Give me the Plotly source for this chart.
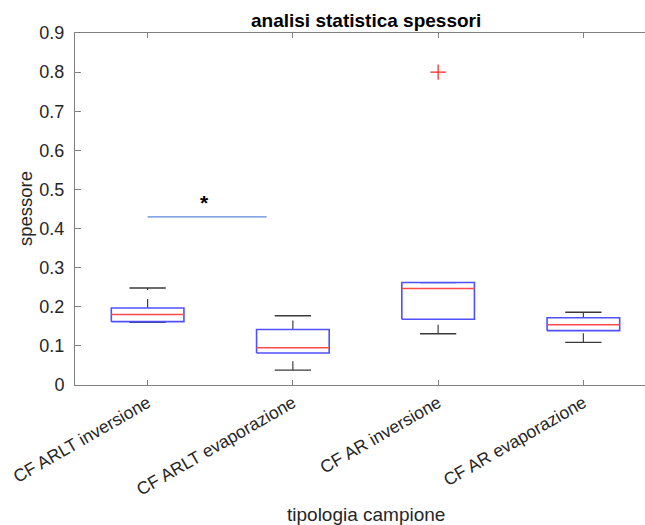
import plotly.graph_objects as go

categories = ["CF ARLT inversione", "CF ARLT evaporazione", "CF AR inversione", "CF AR evaporazione"]
q1 = [0.162, 0.082, 0.168, 0.139]
median = [0.180, 0.095, 0.247, 0.154]
q3 = [0.197, 0.142, 0.262, 0.172]
whisker_low = [0.160, 0.038, 0.131, 0.109]
whisker_high = [0.248, 0.177, 0.262, 0.186]
outlier_pos = [3]
outlier_val = [0.80]
sig_x = [1, 1.82]
sig_y = [0.43, 0.43]
star_x = 1.39
star_y = 0.467
y_ticks = [0, 0.1, 0.2, 0.3, 0.4, 0.5, 0.6, 0.7, 0.8, 0.9]

FONT = "Liberation Sans, Arial, Helvetica, sans-serif"
TXT = "#262626"
AX = "#808080"
BOXW = 0.25
CAPW = 0.125

fig = go.Figure()

for i in range(len(categories)):
    p = i + 1
    # whiskers (dashed)
    fig.add_trace(go.Scatter(x=[p, p], y=[q3[i], whisker_high[i]], mode="lines",
                             line=dict(color="#404040", width=1.2, dash="dash"), hoverinfo="skip"))
    fig.add_trace(go.Scatter(x=[p, p], y=[whisker_low[i], q1[i]], mode="lines",
                             line=dict(color="#404040", width=1.2, dash="dash"), hoverinfo="skip"))
    # caps
    for v in (whisker_high[i], whisker_low[i]):
        fig.add_trace(go.Scatter(x=[p - CAPW, p + CAPW], y=[v, v], mode="lines",
                                 line=dict(color="#3a3a3a", width=1.3), hoverinfo="skip"))
    # box
    fig.add_trace(go.Scatter(x=[p - BOXW, p + BOXW, p + BOXW, p - BOXW, p - BOXW],
                             y=[q1[i], q1[i], q3[i], q3[i], q1[i]], mode="lines",
                             line=dict(color="#5050ff", width=1.6), hoverinfo="skip"))
    # median
    fig.add_trace(go.Scatter(x=[p - BOXW, p + BOXW], y=[median[i], median[i]], mode="lines",
                             line=dict(color="#ff4a4a", width=1.5), hoverinfo="skip"))

fig.add_trace(go.Scatter(x=outlier_pos, y=outlier_val, mode="markers",
                         marker=dict(symbol="cross-thin", size=11, line=dict(color="#ff2020", width=1.2)),
                         hoverinfo="skip"))

fig.add_trace(go.Scatter(x=sig_x, y=sig_y, mode="lines",
                         line=dict(color="#5b88dd", width=1.3), hoverinfo="skip"))

fig.add_annotation(x=star_x, y=star_y, xref="x", yref="y", text="<b>*</b>", showarrow=False,
                   font=dict(family=FONT, size=21, color="black"), yshift=0)

# title and axis labels
fig.add_annotation(x=2.5, y=1, xref="x", yref="paper", text="<b>analisi statistica spessori</b>",
                   showarrow=False, yanchor="middle", yshift=13,
                   font=dict(family=FONT, size=19, color="black"))
fig.add_annotation(x=2.5, y=0, xref="x", yref="paper", text="tipologia campione",
                   showarrow=False, yanchor="middle", yshift=-129,
                   font=dict(family=FONT, size=19, color=TXT))
fig.add_annotation(x=0, y=0.5, xref="paper", yref="paper", text="spessore", textangle=-90,
                   showarrow=False, xanchor="center", xshift=-50,
                   font=dict(family=FONT, size=18.5, color=TXT))

fig.update_layout(
    width=645, height=525,
    margin=dict(l=75, r=0, t=33, b=140),
    plot_bgcolor="white", paper_bgcolor="white",
    showlegend=False,
    font=dict(family=FONT, size=18, color=TXT),
)
fig.update_xaxes(range=[0.5, 4.5 - 11 / 145.3], tickvals=[1, 2, 3, 4], ticktext=categories,
                 tickangle=-30, ticks="inside", ticklen=5, tickcolor=AX,
                 showline=True, linecolor=AX, linewidth=1, mirror="ticks",
                 showgrid=False, zeroline=False,
                 tickfont=dict(family=FONT, size=17.5, color=TXT))
fig.update_yaxes(range=[0, 0.9], tickvals=y_ticks, ticks="inside", ticklen=6, tickcolor=AX,
                 showline=True, linecolor=AX, linewidth=1,
                 showgrid=False, zeroline=False, ticklabelstandoff=6,
                 tickfont=dict(family=FONT, size=18, color=TXT))

fig.write_html("out.html")
